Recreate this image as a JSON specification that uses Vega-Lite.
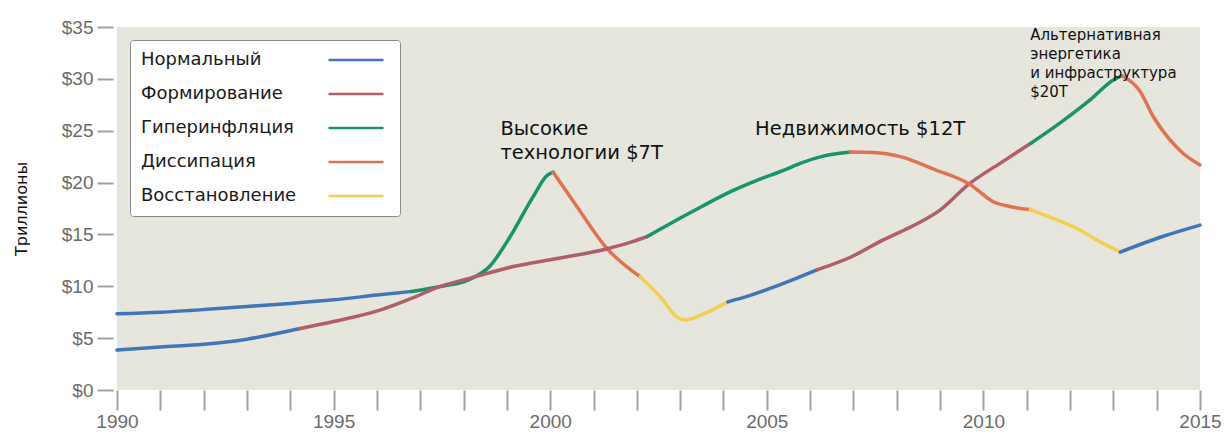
{
  "$schema": "https://vega.github.io/schema/vega-lite/v6.json",
  "width": 1083,
  "height": 363,
  "autosize": {"type": "none"},
  "padding": {"left": 117, "top": 27, "right": 25, "bottom": 44},
  "background": "white",
  "config": {
    "view": {"fill": "#e6e6dc", "stroke": null},
    "font": "DejaVu Sans"
  },
  "datasets": {
    "lines": [
      {"seg": "A1", "phase": "Нормальный", "year": 1990, "value": 7.35},
      {"seg": "A1", "phase": "Нормальный", "year": 1991, "value": 7.5},
      {"seg": "A1", "phase": "Нормальный", "year": 1992, "value": 7.75},
      {"seg": "A1", "phase": "Нормальный", "year": 1993, "value": 8.05},
      {"seg": "A1", "phase": "Нормальный", "year": 1994, "value": 8.35},
      {"seg": "A1", "phase": "Нормальный", "year": 1995, "value": 8.7},
      {"seg": "A1", "phase": "Нормальный", "year": 1996, "value": 9.15},
      {"seg": "A1", "phase": "Нормальный", "year": 1996.8, "value": 9.5},
      {"seg": "A2", "phase": "Гиперинфляция", "year": 1996.8, "value": 9.5},
      {"seg": "A2", "phase": "Гиперинфляция", "year": 1997.5, "value": 10.0},
      {"seg": "A2", "phase": "Гиперинфляция", "year": 1998.1, "value": 10.6},
      {"seg": "A2", "phase": "Гиперинфляция", "year": 1998.6, "value": 11.9},
      {"seg": "A2", "phase": "Гиперинфляция", "year": 1999.07, "value": 14.75},
      {"seg": "A2", "phase": "Гиперинфляция", "year": 1999.6, "value": 18.6},
      {"seg": "A2", "phase": "Гиперинфляция", "year": 1999.93, "value": 20.7},
      {"seg": "A2", "phase": "Гиперинфляция", "year": 2000.07, "value": 21.0},
      {"seg": "A3", "phase": "Диссипация", "year": 2000.07, "value": 21.0},
      {"seg": "A3", "phase": "Диссипация", "year": 2000.6, "value": 17.8},
      {"seg": "A3", "phase": "Диссипация", "year": 2001.3, "value": 13.7},
      {"seg": "A3", "phase": "Диссипация", "year": 2002.08, "value": 10.9},
      {"seg": "A4", "phase": "Восстановление", "year": 2002.08, "value": 10.9},
      {"seg": "A4", "phase": "Восстановление", "year": 2002.6, "value": 8.7},
      {"seg": "A4", "phase": "Восстановление", "year": 2002.93, "value": 7.0},
      {"seg": "A4", "phase": "Восстановление", "year": 2003.1, "value": 6.75},
      {"seg": "A4", "phase": "Восстановление", "year": 2003.46, "value": 7.2},
      {"seg": "A4", "phase": "Восстановление", "year": 2004.1, "value": 8.5},
      {"seg": "A5", "phase": "Нормальный", "year": 2004.1, "value": 8.5},
      {"seg": "A5", "phase": "Нормальный", "year": 2004.6, "value": 9.1},
      {"seg": "A5", "phase": "Нормальный", "year": 2005.4, "value": 10.3},
      {"seg": "A5", "phase": "Нормальный", "year": 2006.17, "value": 11.6},
      {"seg": "A6", "phase": "Формирование", "year": 2006.17, "value": 11.6},
      {"seg": "A6", "phase": "Формирование", "year": 2006.93, "value": 12.8},
      {"seg": "A6", "phase": "Формирование", "year": 2007.7, "value": 14.5},
      {"seg": "A6", "phase": "Формирование", "year": 2008.5, "value": 16.1},
      {"seg": "A6", "phase": "Формирование", "year": 2009.0, "value": 17.35},
      {"seg": "A6", "phase": "Формирование", "year": 2009.65, "value": 19.8},
      {"seg": "A6", "phase": "Формирование", "year": 2010.4, "value": 21.9},
      {"seg": "A6", "phase": "Формирование", "year": 2011.1, "value": 23.8},
      {"seg": "A7", "phase": "Гиперинфляция", "year": 2011.1, "value": 23.8},
      {"seg": "A7", "phase": "Гиперинфляция", "year": 2011.85, "value": 26.0},
      {"seg": "A7", "phase": "Гиперинфляция", "year": 2012.47, "value": 28.0},
      {"seg": "A7", "phase": "Гиперинфляция", "year": 2013.0, "value": 29.9},
      {"seg": "A7", "phase": "Гиперинфляция", "year": 2013.2, "value": 30.3},
      {"seg": "A8", "phase": "Диссипация", "year": 2013.2, "value": 30.3},
      {"seg": "A8", "phase": "Диссипация", "year": 2013.6, "value": 28.9},
      {"seg": "A8", "phase": "Диссипация", "year": 2013.93, "value": 26.3},
      {"seg": "A8", "phase": "Диссипация", "year": 2014.25, "value": 24.4},
      {"seg": "A8", "phase": "Диссипация", "year": 2014.6, "value": 22.85},
      {"seg": "A8", "phase": "Диссипация", "year": 2015, "value": 21.7},
      {"seg": "B1", "phase": "Нормальный", "year": 1990, "value": 3.85},
      {"seg": "B1", "phase": "Нормальный", "year": 1991, "value": 4.15},
      {"seg": "B1", "phase": "Нормальный", "year": 1992, "value": 4.4},
      {"seg": "B1", "phase": "Нормальный", "year": 1993, "value": 4.9},
      {"seg": "B1", "phase": "Нормальный", "year": 1994.2, "value": 5.9},
      {"seg": "B2", "phase": "Формирование", "year": 1994.2, "value": 5.9},
      {"seg": "B2", "phase": "Формирование", "year": 1995.0, "value": 6.6},
      {"seg": "B2", "phase": "Формирование", "year": 1996.07, "value": 7.7},
      {"seg": "B2", "phase": "Формирование", "year": 1996.84, "value": 8.9},
      {"seg": "B2", "phase": "Формирование", "year": 1997.4, "value": 9.9},
      {"seg": "B2", "phase": "Формирование", "year": 1998.08, "value": 10.7},
      {"seg": "B2", "phase": "Формирование", "year": 1999.15, "value": 11.9},
      {"seg": "B2", "phase": "Формирование", "year": 2000.2, "value": 12.7},
      {"seg": "B2", "phase": "Формирование", "year": 2001.3, "value": 13.6},
      {"seg": "B2", "phase": "Формирование", "year": 2001.9, "value": 14.3},
      {"seg": "B2", "phase": "Формирование", "year": 2002.24, "value": 14.8},
      {"seg": "B3", "phase": "Гиперинфляция", "year": 2002.24, "value": 14.8},
      {"seg": "B3", "phase": "Гиперинфляция", "year": 2003.1, "value": 16.8},
      {"seg": "B3", "phase": "Гиперинфляция", "year": 2003.5, "value": 17.7},
      {"seg": "B3", "phase": "Гиперинфляция", "year": 2004.2, "value": 19.2},
      {"seg": "B3", "phase": "Гиперинфляция", "year": 2004.7, "value": 20.1},
      {"seg": "B3", "phase": "Гиперинфляция", "year": 2005.4, "value": 21.2},
      {"seg": "B3", "phase": "Гиперинфляция", "year": 2005.8, "value": 21.9},
      {"seg": "B3", "phase": "Гиперинфляция", "year": 2006.3, "value": 22.55},
      {"seg": "B3", "phase": "Гиперинфляция", "year": 2006.93, "value": 22.95},
      {"seg": "B4", "phase": "Диссипация", "year": 2006.93, "value": 22.95},
      {"seg": "B4", "phase": "Диссипация", "year": 2007.46, "value": 22.9},
      {"seg": "B4", "phase": "Диссипация", "year": 2008.08, "value": 22.5},
      {"seg": "B4", "phase": "Диссипация", "year": 2008.85, "value": 21.3},
      {"seg": "B4", "phase": "Диссипация", "year": 2009.7, "value": 19.8},
      {"seg": "B4", "phase": "Диссипация", "year": 2010.25, "value": 18.1},
      {"seg": "B4", "phase": "Диссипация", "year": 2010.6, "value": 17.7},
      {"seg": "B4", "phase": "Диссипация", "year": 2011.08, "value": 17.4},
      {"seg": "B5", "phase": "Восстановление", "year": 2011.08, "value": 17.4},
      {"seg": "B5", "phase": "Восстановление", "year": 2011.7, "value": 16.4},
      {"seg": "B5", "phase": "Восстановление", "year": 2012.24, "value": 15.4},
      {"seg": "B5", "phase": "Восстановление", "year": 2012.6, "value": 14.5},
      {"seg": "B5", "phase": "Восстановление", "year": 2013.16, "value": 13.3},
      {"seg": "B6", "phase": "Нормальный", "year": 2013.16, "value": 13.3},
      {"seg": "B6", "phase": "Нормальный", "year": 2014.1, "value": 14.75},
      {"seg": "B6", "phase": "Нормальный", "year": 2015, "value": 15.9}
    ],
    "notes": [
      {"kind": "big", "year": 1998.85, "value": 26.0, "label": "Высокие\nтехнологии $7T"},
      {"kind": "big", "year": 2004.73, "value": 26.0, "label": "Недвижимость $12T"},
      {"kind": "small", "year": 2011.08, "value": 34.9, "label": "Альтернативная\nэнергетика\nи инфраструктура\n$20T"}
    ]
  },
  "layer": [
    {
      "data": {"name": "lines"},
      "mark": {"type": "line", "interpolate": "monotone", "strokeWidth": 3.5, "strokeCap": "round"},
      "encoding": {
        "x": {
          "field": "year", "type": "quantitative",
          "scale": {"domain": [1990, 2015], "nice": false, "zero": false},
          "axis": {
            "values": [1990,1991,1992,1993,1994,1995,1996,1997,1998,1999,2000,2001,2002,2003,2004,2005,2006,2007,2008,2009,2010,2011,2012,2013,2014,2015],
            "labelExpr": "datum.value % 5 === 0 ? datum.value : ''",
            "grid": false, "domain": false, "title": null,
            "tickSize": 20, "tickWidth": 2, "tickColor": "#a0a0a0",
            "labelFont": "Liberation Sans", "labelFontSize": 19, "labelColor": "#6b6b6b",
            "labelPadding": 2, "labelFlush": false, "labelOverlap": false
          }
        },
        "y": {
          "field": "value", "type": "quantitative",
          "scale": {"domain": [0, 35], "nice": false},
          "axis": {
            "values": [0, 5, 10, 15, 20, 25, 30, 35],
            "labelExpr": "'$' + datum.value",
            "grid": false, "domain": false,
            "offset": 4, "tickSize": 16, "tickWidth": 2, "tickColor": "#a0a0a0",
            "labelFont": "Liberation Sans", "labelFontSize": 19, "labelColor": "#6b6b6b",
            "labelPadding": 4,
            "title": "Триллионы", "titleFont": "DejaVu Sans", "titleFontSize": 16,
            "titleFontWeight": "normal", "titleColor": "#111111", "titlePadding": 32
          }
        },
        "color": {
          "field": "phase", "type": "nominal",
          "scale": {
            "domain": ["Нормальный", "Формирование", "Гиперинфляция", "Диссипация", "Восстановление"],
            "range": ["#3f76bb", "#b25d69", "#14966c", "#e2724f", "#f4d04a"]
          },
          "legend": {
            "title": null, "orient": "none", "legendX": 13, "legendY": 13,
            "symbolType": "M-5,0H5", "symbolSize": 121, "symbolStrokeWidth": 2.5,
            "symbolOffset": 206, "labelOffset": -224,
            "rowPadding": 16, "padding": 11,
            "fillColor": "white", "strokeColor": "#8a8a8a", "cornerRadius": 3,
            "labelFont": "DejaVu Sans", "labelFontSize": 18, "labelColor": "#1a1a1a", "labelLimit": 300
          }
        },
        "detail": {"field": "seg"}
      }
    },
    {
      "data": {"name": "notes"},
      "transform": [{"filter": "datum.kind === 'big'"}],
      "mark": {"type": "text", "align": "left", "baseline": "top", "lineBreak": "\n", "lineHeight": 24, "fontSize": 19.5, "font": "DejaVu Sans", "color": "#111111"},
      "encoding": {
        "x": {"field": "year", "type": "quantitative"},
        "y": {"field": "value", "type": "quantitative"},
        "text": {"field": "label"}
      }
    },
    {
      "data": {"name": "notes"},
      "transform": [{"filter": "datum.kind === 'small'"}],
      "mark": {"type": "text", "align": "left", "baseline": "top", "lineBreak": "\n", "lineHeight": 19, "fontSize": 15, "font": "DejaVu Sans", "color": "#111111"},
      "encoding": {
        "x": {"field": "year", "type": "quantitative"},
        "y": {"field": "value", "type": "quantitative"},
        "text": {"field": "label"}
      }
    }
  ]
}
